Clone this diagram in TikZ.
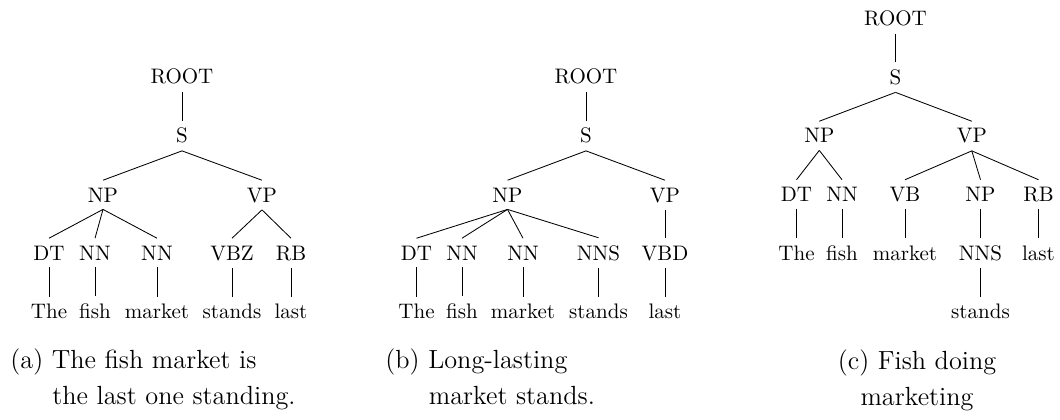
\documentclass[tikz,border=0pt]{standalone}
\begin{document}
\begin{tikzpicture}[x=0.476pt,y=-0.476pt,
  tag/.style={anchor=base, inner sep=3.33pt},
  branch/.style={line width=0.4pt},
  captext/.style={inner sep=0pt, font=\fontsize{12.5}{15}\selectfont}]
\useasboundingbox (0,0) rectangle (1060,420);

% ---------- (a) The fish market is the last one standing ----------
\node[tag] (aroot) at (182,84) {ROOT};
\node[tag] (as)    at (182,143) {S};
\node[tag] (anp)   at (103,202) {NP};
\node[tag] (avp)   at (262,202) {VP};
\node[tag] (adt)   at (49,260) {DT};
\node[tag] (ann1)  at (95,260) {NN};
\node[tag] (ann2)  at (157,260) {NN};
\node[tag] (avbz)  at (232,260) {VBZ};
\node[tag] (arb)   at (291,260) {RB};
\node[tag] (aw1)   at (49,318.5) {The};
\node[tag] (aw2)   at (95,318.5) {fish};
\node[tag] (aw3)   at (157,318.5) {market};
\node[tag] (aw4)   at (232,318.5) {stands};
\node[tag] (aw5)   at (291,318.5) {last};
\draw[branch] (aroot.south) -- (as.north);
\draw[branch] (as.south) -- (anp.north);
\draw[branch] (as.south) -- (avp.north);
\draw[branch] (anp.south) -- (adt.north);
\draw[branch] (anp.south) -- (ann1.north);
\draw[branch] (anp.south) -- (ann2.north);
\draw[branch] (avp.south) -- (avbz.north);
\draw[branch] (avp.south) -- (arb.north);
\draw[branch] (adt.south) -- (aw1.north);
\draw[branch] (ann1.south) -- (aw2.north);
\draw[branch] (ann2.south) -- (aw3.north);
\draw[branch] (avbz.south) -- (aw4.north);
\draw[branch] (arb.south) -- (aw5.north);
\node[captext, anchor=base west] (acap1) at (10,368.5) {(a) The fish market is};
\node[captext, anchor=base west] (acap2) at (52,404) {the last one standing.};

% ---------- (b) Long-lasting market stands ----------
\node[tag] (broot) at (586,84) {ROOT};
\node[tag] (bs)    at (586,143) {S};
\node[tag] (bnp)   at (507.5,202) {NP};
\node[tag] (bvp)   at (665,202) {VP};
\node[tag] (bdt)   at (416.5,260) {DT};
\node[tag] (bnn1)  at (462,260) {NN};
\node[tag] (bnn2)  at (523,260) {NN};
\node[tag] (bnns)  at (598.5,260) {NNS};
\node[tag] (bvbd)  at (665,260) {VBD};
\node[tag] (bw1)   at (416.5,318.5) {The};
\node[tag] (bw2)   at (462,318.5) {fish};
\node[tag] (bw3)   at (523,318.5) {market};
\node[tag] (bw4)   at (598.5,318.5) {stands};
\node[tag] (bw5)   at (665,318.5) {last};
\draw[branch] (broot.south) -- (bs.north);
\draw[branch] (bs.south) -- (bnp.north);
\draw[branch] (bs.south) -- (bvp.north);
\draw[branch] (bnp.south) -- (bdt.north);
\draw[branch] (bnp.south) -- (bnn1.north);
\draw[branch] (bnp.south) -- (bnn2.north);
\draw[branch] (bnp.south) -- (bnns.north);
\draw[branch] (bvp.south) -- (bvbd.north);
\draw[branch] (bdt.south) -- (bw1.north);
\draw[branch] (bnn1.south) -- (bw2.north);
\draw[branch] (bnn2.south) -- (bw3.north);
\draw[branch] (bnns.south) -- (bw4.north);
\draw[branch] (bvbd.south) -- (bw5.north);
\node[captext, anchor=base west] (bcap1) at (385,368.5) {(b) Long-lasting};
\node[captext, anchor=base west] (bcap2) at (428.5,404) {market stands.};

% ---------- (c) Fish doing marketing ----------
\node[tag] (croot) at (895.5,26) {ROOT};
\node[tag] (cs)    at (895.5,84.5) {S};
\node[tag] (cnp)   at (819.3,143) {NP};
\node[tag] (cvp)   at (971.8,143) {VP};
\node[tag] (cdt)   at (796.5,201.5) {DT};
\node[tag] (cnn)   at (842,201.5) {NN};
\node[tag] (cvb)   at (905,201.5) {VB};
\node[tag] (cnp2)  at (980.5,201.5) {NP};
\node[tag] (crb)   at (1038.5,201.5) {RB};
\node[tag] (cw1)   at (796.5,260) {The};
\node[tag] (cw2)   at (842,260) {fish};
\node[tag] (cw3)   at (905,260) {market};
\node[tag] (cnns)  at (980.5,260) {NNS};
\node[tag] (cw5)   at (1038.5,260) {last};
\node[tag] (cw4)   at (980.5,318.5) {stands};
\draw[branch] (croot.south) -- (cs.north);
\draw[branch] (cs.south) -- (cnp.north);
\draw[branch] (cs.south) -- (cvp.north);
\draw[branch] (cnp.south) -- (cdt.north);
\draw[branch] (cnp.south) -- (cnn.north);
\draw[branch] (cvp.south) -- (cvb.north);
\draw[branch] (cvp.south) -- (cnp2.north);
\draw[branch] (cvp.south) -- (crb.north);
\draw[branch] (cdt.south) -- (cw1.north);
\draw[branch] (cnn.south) -- (cw2.north);
\draw[branch] (cvb.south) -- (cw3.north);
\draw[branch] (cnp2.south) -- (cnns.north);
\draw[branch] (crb.south) -- (cw5.north);
\draw[branch] (cnns.south) -- (cw4.north);
\node[captext, anchor=base] (ccap1) at (917,369) {(c) Fish doing};
\node[captext, anchor=base] (ccap2) at (917,405) {marketing};
\end{tikzpicture}
\end{document}
